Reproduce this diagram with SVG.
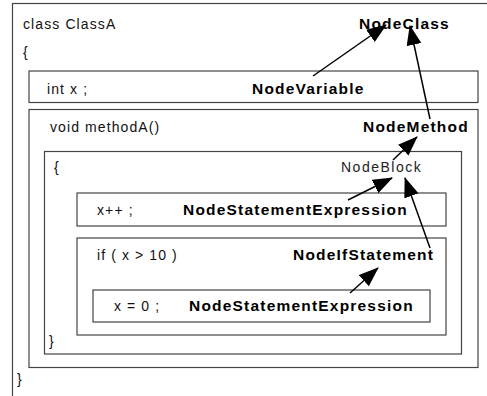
<svg xmlns="http://www.w3.org/2000/svg" width="487" height="396" viewBox="0 0 487 396">
<style>
  .box { fill: none; stroke: #444; stroke-width: 1.2; }
  .code { font-family: "Liberation Sans", Arial, sans-serif; font-size: 14px; letter-spacing: 1.1px; fill: #111; }
  .lbl { font-family: "Liberation Sans", Arial, sans-serif; font-size: 15.5px; font-weight: bold; letter-spacing: 1.2px; fill: #000; }
  .nb { font-family: "Liberation Sans", Arial, sans-serif; font-size: 14px; letter-spacing: 1.5px; fill: #222; }
  .arr { stroke: #000; stroke-width: 1.5; fill: none; marker-end: url(#head); }
</style>
<defs>
  <marker id="head" viewBox="0 0 20 15" refX="19" refY="7.5" markerUnits="userSpaceOnUse" markerWidth="20" markerHeight="15" orient="auto">
    <path d="M0,0 L20,7.5 L0,15 Z" fill="#000"/>
  </marker>
</defs>
<rect width="487" height="396" fill="#fff"/>
<g id="ClassA">
  <rect class="box" x="12.5" y="3.5" width="490" height="410"/>
  <text class="code" x="23" y="29">class ClassA</text>
  <text class="code" x="23" y="57">{</text>
  <text class="code" x="17" y="384">}</text>
  <text class="lbl" x="359" y="29">NodeClass</text>
</g>
<g id="VarX">
  <rect class="box" x="29" y="71" width="449" height="31.5"/>
  <text class="code" x="47" y="94">int x ;</text>
  <text class="lbl" x="252" y="94">NodeVariable</text>
</g>
<g id="MethodA">
  <rect class="box" x="29" y="109.5" width="449" height="258"/>
  <text class="code" x="50" y="132">void methodA()</text>
  <text class="lbl" x="363" y="132">NodeMethod</text>
</g>
<g id="Block">
  <rect class="box" x="44.5" y="151.5" width="417" height="202.5"/>
  <text class="code" x="54" y="172">{</text>
  <text class="code" x="49" y="346">}</text>
  <text class="nb" x="341" y="172">NodeBlock</text>
</g>
<g id="StmtInc">
  <rect class="box" x="77" y="193" width="369" height="33"/>
  <text class="code" x="97" y="215">x++ ;</text>
  <text class="lbl" x="183" y="215">NodeStatementExpression</text>
</g>
<g id="IfStmt">
  <rect class="box" x="77" y="238" width="369" height="97"/>
  <text class="code" x="97" y="260">if ( x &gt; 10 )</text>
  <text class="lbl" x="293" y="260">NodeIfStatement</text>
</g>
<g id="StmtAssign">
  <rect class="box" x="93" y="290" width="337" height="32"/>
  <text class="code" x="114" y="311">x = 0 ;</text>
  <text class="lbl" x="189" y="311">NodeStatementExpression</text>
</g>
<g id="connectors">
  <line class="arr" x1="313" y1="76" x2="386" y2="25"/>
  <line class="arr" x1="430" y1="119" x2="410" y2="26"/>
  <line class="arr" x1="393" y1="160" x2="417" y2="137"/>
  <line class="arr" x1="348" y1="200" x2="392" y2="178"/>
  <line class="arr" x1="430" y1="248" x2="405" y2="178"/>
  <line class="arr" x1="350" y1="293" x2="378" y2="268"/>
</g>
</svg>
